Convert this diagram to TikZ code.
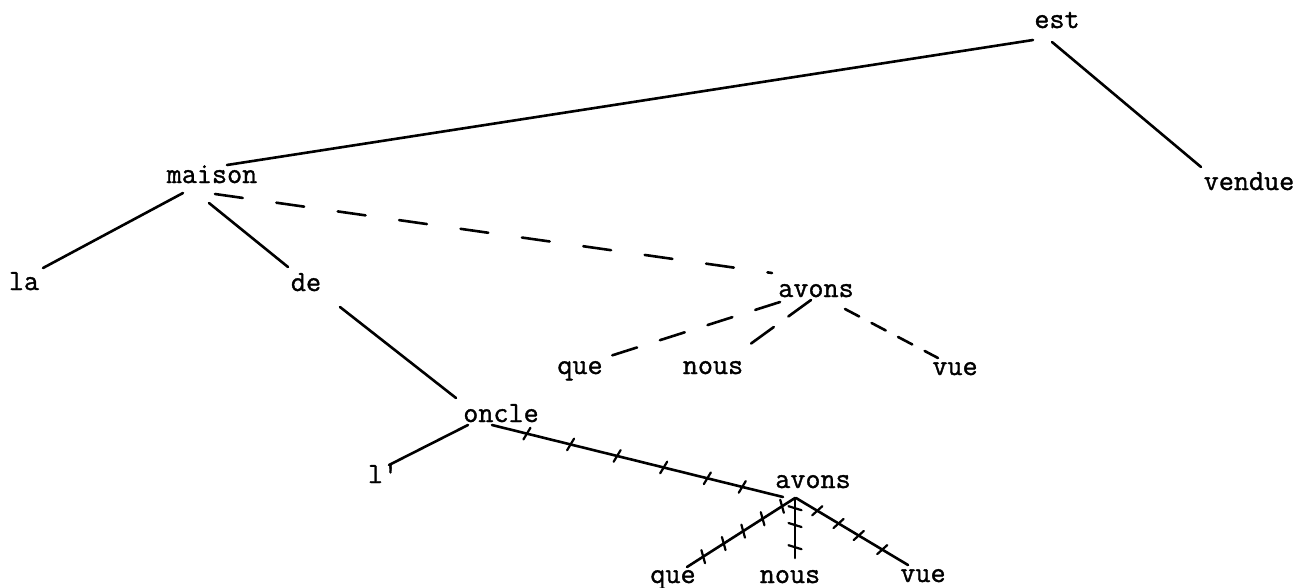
\documentclass[tikz,border=0pt]{standalone}
\usepackage{fontspec}
\newfontfamily\typewriter{Latin Modern Mono}[FakeBold=1.2]
\usetikzlibrary{calc,decorations.markings}
\tikzset{
  word/.style={anchor=base,inner sep=0pt,font=\fontsize{29.3pt}{30pt}\selectfont\typewriter},
  edge/.style={line width=2.6pt,line cap=round},
  dashA/.style={edge,dash pattern=on 28pt off 34pt},
  dashB/.style={edge,dash pattern=on 26pt off 24pt},
  dashC/.style={edge,dash pattern=on 28pt off 18pt},
  dashD/.style={edge,dash pattern=on 16pt off 14pt},
  hatch/.style={postaction={decorate,decoration={markings,
     mark=at position #1 with {\draw[line width=2.2pt,line cap=round] (-2pt,-6.5pt) -- (2pt,6.5pt);}}}}
}
\begin{document}
\begin{tikzpicture}[x=1pt,y=-1pt]
\useasboundingbox (0,0) rectangle (1300,587);
% nodes (x = centre, y = baseline)
\node[word] (est)    at (1057,28)  {est};
\node[word] (vendue) at (1249,190) {vendue};
\node[word] (maison) at (212,183)  {maison};
\node[word] (la)     at (24,290)   {la};
\node[word] (de)     at (306,291)  {de};
\node[word] (avA)    at (816,297)  {avons};
\node[word] (queA)   at (580,374)  {que};
\node[word] (nousA)  at (713,374)  {nous};
\node[word] (vueA)   at (955,375)  {vue};
\node[word] (oncle)  at (501,422)  {oncle};
\node[word] (l)      at (383,483)  {l'};
\node[word] (avB)    at (813,488)  {avons};
\node[word] (queB)   at (673,583)  {que};
\node[word] (nousB)  at (790,583)  {nous};
\node[word] (vueB)   at (923,582)  {vue};
% solid edges
\draw[edge] ($(maison.base)+(15,-18)$) -- ($(est.base)+(-24,12)$);
\draw[edge] ($(est.base)+(-5,14)$) -- ($(vendue.base)+(-48,-23)$);
\draw[edge] ($(maison.base)+(-29,10)$) -- ($(la.base)+(19,-22)$);
\draw[edge] ($(maison.base)+(-3,20)$) -- ($(de.base)+(-18,-24)$);
\draw[edge] ($(de.base)+(34,16)$) -- ($(oncle.base)+(-45,-24)$);
\draw[edge] ($(oncle.base)+(-33,3)$) -- ($(l.base)+(6,-18)$);
% dashed edges
\draw[dashA] ($(maison.base)+(3,11)$) -- ($(avA.base)+(-44,-24)$);
\draw[dashB] ($(avA.base)+(-36,5)$) -- ($(queA.base)+(27,-17)$);
\draw[dashC] ($(avA.base)+(-5,3)$) -- ($(nousA.base)+(25,-21)$);
\draw[dashD] ($(avA.base)+(29,12)$) -- ($(vueA.base)+(-17,-17)$);
% hatched edges
\draw[edge,hatch/.list={0.12,0.27,0.43,0.59,0.74,0.86}] ($(oncle.base)+(-9,3)$) -- ($(avB.base)+(-30,9)$);
\draw[edge,hatch/.list={0.12,0.3,0.48,0.66,0.85}] ($(avB.base)+(-18,10)$) -- ($(queB.base)+(14,-16)$);
\draw[edge,hatch/.list={0.17,0.45,0.82}] ($(avB.base)+(-18,10)$) -- ($(nousB.base)+(5,-25)$);
\draw[edge,hatch/.list={0.19,0.38,0.56,0.77}] ($(avB.base)+(-17,10)$) -- ($(vueB.base)+(-15,-17)$);
\end{tikzpicture}
\end{document}
